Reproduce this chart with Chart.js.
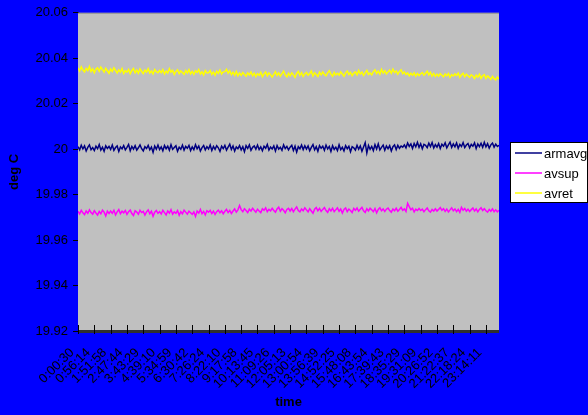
<!DOCTYPE html>
<html>
<head>
<meta charset="utf-8">
<script src="https://cdn.jsdelivr.net/npm/chart.js@4.4.0/dist/chart.umd.min.js"></script>
<style>
  html, body { margin: 0; padding: 0; background: #0000ff; }
  #wrap { width: 588px; height: 415px; position: relative; }
</style>
</head>
<body>
<div id="wrap"><canvas id="chart"></canvas></div>
<script>
const timeLabels = ['0:00:30','0:56:14','1:51:58','2:47:44','3:43:29','4:39:10','5:34:59','6:30:42','7:26:24','8:22:10','9:17:58','10:13:45','11:09:26','12:05:13','13:00:54','13:56:39','14:52:25','15:48:08','16:43:54','17:39:43','18:35:29','19:31:09','20:26:52','21:22:37','22:18:24','23:14:11'];
const seriesNames = ['armavg', 'avsup', 'avret'];
const seriesColors = ['#000080', '#ff00ff', '#ffff00'];
const yTicks = [19.92, 20.06, 0.02];

const armavg = [
  20.0011,19.9997,20.0017,20.0001,20.0014,19.9992,20.0008,20.0019,19.9998,20.0007,
  19.9994,20.0013,20.0002,20.0020,19.9996,20.0009,19.9991,20.0015,20.0003,20.0012,
  19.9999,20.0018,19.9995,20.0007,20.0014,19.9990,20.0010,20.0001,20.0016,19.9997,
  20.0008,20.0021,19.9993,20.0012,20.0000,20.0015,19.9996,20.0006,20.0019,20.0002,
  19.9992,20.0011,20.0003,20.0017,19.9997,20.0009,19.9986,20.0014,20.0000,20.0018,
  19.9998,20.0010,19.9993,20.0016,20.0002,20.0013,19.9995,20.0020,19.9999,20.0007,
  20.0015,19.9991,20.0009,20.0000,20.0018,19.9996,20.0012,20.0004,20.0017,19.9994,
  20.0010,19.9998,20.0020,20.0002,20.0014,19.9992,20.0007,20.0016,19.9997,20.0011,
  20.0001,20.0018,19.9994,20.0012,19.9999,20.0015,20.0006,19.9990,20.0013,20.0003,
  20.0017,19.9996,20.0009,20.0022,19.9999,20.0014,19.9992,20.0010,20.0002,20.0016,
  19.9997,20.0011,19.9989,20.0015,20.0003,20.0019,19.9995,20.0008,20.0014,20.0000,
  20.0018,19.9998,20.0010,19.9993,20.0013,20.0004,20.0021,19.9996,20.0009,20.0001,
  20.0014,19.9992,20.0016,20.0000,20.0008,19.9995,20.0019,20.0003,20.0012,19.9997,
  20.0009,20.0017,19.9994,20.0013,19.9987,20.0011,20.0002,20.0018,19.9998,20.0015,
  20.0000,20.0014,19.9993,20.0008,20.0020,19.9997,20.0011,19.9991,20.0016,20.0004,
  20.0013,19.9995,20.0018,20.0001,20.0012,19.9990,20.0015,19.9999,20.0009,19.9994,
  20.0019,19.9998,20.0008,19.9992,20.0015,20.0002,20.0013,19.9989,20.0011,20.0006,
  19.9996,20.0017,20.0000,20.0014,19.9991,20.0010,20.0029,19.9983,20.0016,19.9999,
  20.0012,19.9994,20.0020,20.0001,20.0023,19.9997,20.0008,20.0018,19.9995,20.0014,
  20.0002,20.0015,19.9992,20.0011,20.0019,19.9998,20.0017,20.0004,20.0014,20.0009,
  20.0019,20.0006,20.0027,20.0012,20.0023,20.0003,20.0025,20.0010,20.0030,20.0008,
  20.0024,20.0002,20.0021,20.0017,20.0007,20.0026,20.0011,20.0029,20.0005,20.0020,
  20.0009,20.0025,20.0003,20.0022,20.0013,20.0028,20.0006,20.0019,20.0031,20.0008,
  20.0023,20.0010,20.0027,20.0004,20.0021,20.0012,20.0029,20.0007,20.0018,20.0025,
  20.0006,20.0021,20.0013,20.0028,20.0003,20.0023,20.0011,20.0026,20.0008,20.0030,
  20.0010,20.0024,20.0005,20.0019,20.0027,20.0009,20.0022,20.0012,20.0017
];

const avsup = [
  19.9727,19.9715,19.9731,19.9720,19.9712,19.9728,19.9718,19.9733,19.9721,19.9714,
  19.9729,19.9719,19.9710,19.9726,19.9716,19.9732,19.9723,19.9706,19.9727,19.9717,
  19.9728,19.9718,19.9731,19.9711,19.9724,19.9734,19.9716,19.9727,19.9720,19.9730,
  19.9713,19.9725,19.9732,19.9717,19.9708,19.9729,19.9723,19.9714,19.9731,19.9721,
  19.9726,19.9710,19.9724,19.9733,19.9716,19.9727,19.9705,19.9723,19.9730,19.9718,
  19.9725,19.9715,19.9731,19.9721,19.9711,19.9728,19.9719,19.9734,19.9714,19.9724,
  19.9718,19.9730,19.9709,19.9725,19.9716,19.9732,19.9723,19.9714,19.9727,19.9720,
  19.9713,19.9724,19.9704,19.9728,19.9719,19.9735,19.9716,19.9726,19.9711,19.9729,
  19.9723,19.9731,19.9717,19.9727,19.9713,19.9725,19.9732,19.9720,19.9729,19.9716,
  19.9727,19.9735,19.9721,19.9731,19.9717,19.9728,19.9737,19.9723,19.9733,19.9752,
  19.9734,19.9725,19.9738,19.9730,19.9721,19.9736,19.9728,19.9740,19.9731,19.9723,
  19.9736,19.9728,19.9721,19.9738,19.9731,19.9742,19.9725,19.9735,19.9729,19.9740,
  19.9730,19.9723,19.9737,19.9745,19.9727,19.9738,19.9731,19.9720,19.9735,19.9740,
  19.9728,19.9739,19.9725,19.9736,19.9746,19.9730,19.9724,19.9737,19.9729,19.9742,
  19.9733,19.9724,19.9738,19.9728,19.9718,19.9736,19.9743,19.9729,19.9739,19.9726,
  19.9735,19.9743,19.9730,19.9722,19.9738,19.9728,19.9740,19.9725,19.9734,19.9742,
  19.9727,19.9737,19.9719,19.9735,19.9741,19.9725,19.9736,19.9730,19.9721,19.9739,
  19.9731,19.9741,19.9727,19.9736,19.9744,19.9729,19.9722,19.9738,19.9728,19.9740,
  19.9733,19.9725,19.9739,19.9720,19.9735,19.9742,19.9729,19.9737,19.9726,19.9736,
  19.9741,19.9730,19.9723,19.9737,19.9729,19.9740,19.9727,19.9735,19.9744,19.9731,
  19.9737,19.9726,19.9762,19.9747,19.9733,19.9740,19.9724,19.9736,19.9730,19.9739,
  19.9730,19.9736,19.9725,19.9734,19.9741,19.9729,19.9723,19.9735,19.9728,19.9738,
  19.9728,19.9735,19.9743,19.9731,19.9738,19.9726,19.9736,19.9724,19.9733,19.9742,
  19.9729,19.9737,19.9725,19.9735,19.9722,19.9744,19.9731,19.9739,19.9727,19.9736,
  19.9726,19.9734,19.9741,19.9728,19.9737,19.9724,19.9735,19.9742,19.9730,19.9738,
  19.9729,19.9723,19.9735,19.9727,19.9737,19.9725,19.9733,19.9724,19.9731
];

const avret = [
  20.0358,20.0344,20.0362,20.0348,20.0340,20.0355,20.0346,20.0364,20.0342,20.0353,
  20.0336,20.0352,20.0358,20.0343,20.0361,20.0350,20.0339,20.0356,20.0345,20.0334,
  20.0352,20.0342,20.0358,20.0347,20.0335,20.0349,20.0339,20.0355,20.0333,20.0345,
  20.0339,20.0351,20.0332,20.0346,20.0355,20.0336,20.0348,20.0334,20.0353,20.0342,
  20.0333,20.0348,20.0339,20.0354,20.0335,20.0344,20.0331,20.0350,20.0341,20.0336,
  20.0346,20.0337,20.0350,20.0331,20.0344,20.0335,20.0354,20.0339,20.0347,20.0329,
  20.0342,20.0349,20.0332,20.0344,20.0337,20.0329,20.0346,20.0335,20.0350,20.0331,
  20.0342,20.0329,20.0345,20.0337,20.0350,20.0331,20.0340,20.0327,20.0346,20.0335,
  20.0336,20.0346,20.0329,20.0339,20.0325,20.0343,20.0334,20.0348,20.0331,20.0340,
  20.0341,20.0351,20.0334,20.0345,20.0328,20.0339,20.0325,20.0342,20.0323,20.0335,
  20.0325,20.0337,20.0329,20.0321,20.0336,20.0327,20.0340,20.0323,20.0334,20.0319,
  20.0332,20.0325,20.0338,20.0319,20.0331,20.0340,20.0323,20.0335,20.0328,20.0317,
  20.0329,20.0341,20.0324,20.0335,20.0321,20.0332,20.0343,20.0326,20.0318,20.0334,
  20.0323,20.0336,20.0327,20.0316,20.0333,20.0342,20.0325,20.0337,20.0320,20.0331,
  20.0338,20.0325,20.0333,20.0344,20.0322,20.0336,20.0329,20.0320,20.0339,20.0327,
  20.0340,20.0329,20.0323,20.0336,20.0345,20.0330,20.0321,20.0338,20.0326,20.0334,
  20.0326,20.0340,20.0331,20.0321,20.0336,20.0344,20.0328,20.0338,20.0323,20.0335,
  20.0340,20.0327,20.0346,20.0331,20.0339,20.0324,20.0336,20.0347,20.0329,20.0335,
  20.0327,20.0341,20.0349,20.0333,20.0343,20.0330,20.0351,20.0335,20.0345,20.0331,
  20.0340,20.0348,20.0334,20.0352,20.0337,20.0344,20.0330,20.0342,20.0349,20.0332,
  20.0340,20.0328,20.0335,20.0323,20.0334,20.0325,20.0336,20.0321,20.0333,20.0324,
  20.0332,20.0337,20.0325,20.0334,20.0343,20.0327,20.0338,20.0321,20.0333,20.0320,
  20.0330,20.0321,20.0332,20.0325,20.0318,20.0331,20.0323,20.0333,20.0316,20.0328,
  20.0322,20.0331,20.0324,20.0335,20.0316,20.0327,20.0334,20.0319,20.0330,20.0323,
  20.0316,20.0327,20.0322,20.0311,20.0326,20.0317,20.0330,20.0312,20.0323,20.0328,
  20.0311,20.0322,20.0316,20.0307,20.0320,20.0310,20.0305,20.0317,20.0309
];

const seriesData = [armavg, avsup, avret];
const pointsPerLabel = 10;

// grey plot area + crossing x tick marks
const plotArea = {
  id: 'plotArea',
  beforeDatasetsDraw(chart) {
    const {ctx, chartArea: a} = chart;
    ctx.save();
    ctx.fillStyle = '#c0c0c0';
    ctx.fillRect(a.left, a.top, a.right - a.left, a.bottom - a.top);
    ctx.strokeStyle = '#909090';
    ctx.lineWidth = 1;
    ctx.beginPath();
    ctx.moveTo(a.left, a.top + 0.5);
    ctx.lineTo(a.right, a.top + 0.5);
    ctx.stroke();
    ctx.restore();
  },
  afterDatasetsDraw(chart) {
    const {ctx, chartArea: a, scales} = chart;
    ctx.save();
    ctx.fillStyle = '#303030';
    ctx.fillRect(a.left, a.bottom - 1, a.right - a.left, 3);
    ctx.strokeStyle = '#000';
    ctx.lineWidth = 1;
    scales.x.ticks.forEach(t => {
      const px = Math.round(scales.x.getPixelForValue(t.value)) + 0.5;
      ctx.beginPath();
      ctx.moveTo(px, a.bottom - 6);
      ctx.lineTo(px, a.bottom + 3);
      ctx.stroke();
    });
    ctx.restore();
  }
};

// boxed legend on the right
const boxLegend = {
  id: 'boxLegend',
  afterDraw(chart) {
    const ctx = chart.ctx;
    ctx.save();
    ctx.fillStyle = '#fff';
    ctx.fillRect(510, 142, 78, 61);
    ctx.strokeStyle = '#000';
    ctx.lineWidth = 1;
    ctx.strokeRect(510.5, 142.5, 77, 60);
    ctx.font = '13px "Liberation Sans", Arial, sans-serif';
    ctx.textBaseline = 'middle';
    seriesNames.forEach((name, i) => {
      const y = 153 + i * 20;
      ctx.strokeStyle = seriesColors[i];
      ctx.lineWidth = 1.5;
      ctx.beginPath();
      ctx.moveTo(515, y);
      ctx.lineTo(542, y);
      ctx.stroke();
      ctx.fillStyle = '#000';
      ctx.fillText(name, 544, y + 1);
    });
    ctx.restore();
  }
};

new Chart(document.getElementById('chart'), {
  type: 'line',
  data: {
    datasets: seriesNames.map((name, i) => ({
      label: name,
      data: seriesData[i].map((v, j) => ({x: j, y: v})),
      borderColor: seriesColors[i],
      borderWidth: 1.5,
      pointRadius: 0,
      tension: 0,
      fill: false
    }))
  },
  options: {
    responsive: true,
    maintainAspectRatio: false,
    animation: false,
    layout: {padding: {top: 11, right: 89, left: 0, bottom: 0}},
    plugins: {legend: {display: false}, tooltip: {enabled: false}},
    scales: {
      x: {
        type: 'linear',
        min: 0,
        max: armavg.length - 1,
        grid: {display: false},
        border: {display: false},
        afterFit: s => { s.height = 84; },
        ticks: {
          stepSize: pointsPerLabel,
          includeBounds: false,
          autoSkip: false,
          minRotation: 45,
          maxRotation: 45,
          padding: 6,
          labelOffset: -6,
          color: '#000',
          font: {family: '"Liberation Sans", Arial, sans-serif', size: 13},
          callback: v => timeLabels[Math.round(v / pointsPerLabel)]
        },
        title: {
          display: true,
          text: 'time',
          color: '#000',
          font: {family: '"Liberation Sans", Arial, sans-serif', size: 13, weight: 'bold'},
          padding: {top: 0, bottom: 5}
        }
      },
      y: {
        min: yTicks[0],
        max: yTicks[1],
        afterFit: s => { s.width = 78; },
        grid: {drawOnChartArea: false, tickLength: 5, color: '#000', tickColor: '#000'},
        border: {color: '#000', width: 1},
        ticks: {
          stepSize: yTicks[2],
          padding: 5,
          color: '#000',
          font: {family: '"Liberation Sans", Arial, sans-serif', size: 13},
          callback: v => String(+v.toFixed(2))
        },
        title: {
          display: true,
          text: 'deg C',
          color: '#000',
          font: {family: '"Liberation Sans", Arial, sans-serif', size: 13, weight: 'bold'},
          padding: {top: 7, bottom: 0}
        }
      }
    }
  },
  plugins: [plotArea, boxLegend]
});
</script>
</body>
</html>
